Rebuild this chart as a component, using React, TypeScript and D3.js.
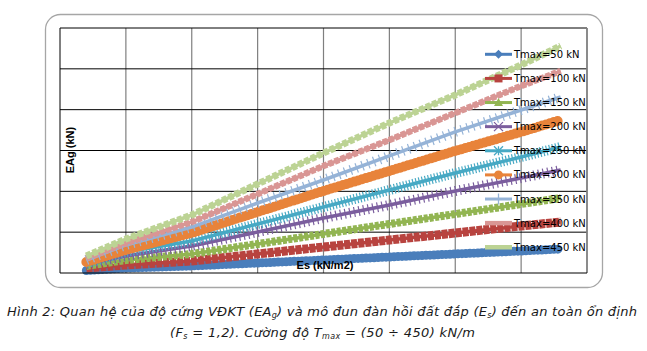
import * as d3 from 'd3';

const W = 647;
const H = 351;

const esValues = [2000, 5000, 10000, 15000, 20000, 25000, 30000, 35000, 38000];

// EAg (kN) per Tmax
const t50 = [31, 61, 86, 122, 159, 196, 233, 269, 294];
const t100 = [61, 98, 147, 233, 318, 404, 490, 576, 624];
const t150 = [86, 159, 233, 355, 478, 600, 722, 845, 918];
const t200 = [110, 208, 331, 502, 673, 833, 1004, 1163, 1261];
const t250 = [122, 257, 392, 600, 808, 1016, 1224, 1420, 1543];
const t300 = [135, 282, 490, 747, 1004, 1249, 1494, 1727, 1873];
const t350 = [159, 343, 563, 857, 1139, 1433, 1727, 1996, 2155];
const t400 = [184, 367, 624, 967, 1310, 1629, 1959, 2290, 2473];
const t450 = [208, 416, 710, 1090, 1469, 1837, 2180, 2547, 2780];

const seriesNames = ['Tmax=50 kN', 'Tmax=100 kN', 'Tmax=150 kN', 'Tmax=200 kN', 'Tmax=250 kN',
  'Tmax=300 kN', 'Tmax=350 kN', 'Tmax=400 kN', 'Tmax=450 kN'];
const seriesValues = [t50, t100, t150, t200, t250, t300, t350, t400, t450];
const colors = ['#4A7EBB', '#B8433F', '#92B552', '#7B5E9E', '#47A9C4', '#E8833A', '#95B3D7', '#D99694', '#BCD394'];
const markers = ['diamond', 'square', 'triangle', 'x', 'star', 'circle', 'plus', 'dash', 'dash'];

// marker look along each line: [width, dasharray, linecap]
const bands: [number, string, string][] = [
  [9, '0,4', 'round'],
  [9, '6,1', 'butt'],
  [8, '4,1.5', 'butt'],
  [10, '1.2,3.5', 'butt'],
  [10, '1.2,2', 'butt'],
  [10, '0,4', 'round'],
  [10, '1.2,5', 'butt'],
  [6.5, '5,1.5', 'butt'],
  [7, '5,2', 'butt'],
];

const x = d3.scaleLinear().domain([0, 40000]).range([60, 587]);
const y = d3.scaleLinear().domain([0, 3000]).range([273, 28]);

const legendMarker = (type: string, cx: number, cy: number, color: string) => {
  const s = 4.5;
  switch (type) {
    case 'diamond':
      return <path d={`M${cx},${cy - s}L${cx + s},${cy}L${cx},${cy + s}L${cx - s},${cy}Z`} fill={color} />;
    case 'square':
      return <rect x={cx - 4} y={cy - 4} width={8} height={8} fill={color} />;
    case 'triangle':
      return <path d={`M${cx},${cy - s}L${cx + s},${cy + s - 1}L${cx - s},${cy + s - 1}Z`} fill={color} />;
    case 'x':
      return <path d={`M${cx - s},${cy - s}L${cx + s},${cy + s}M${cx - s},${cy + s}L${cx + s},${cy - s}`} stroke={color} strokeWidth={1.3} />;
    case 'star':
      return <path d={`M${cx - s},${cy - s}L${cx + s},${cy + s}M${cx - s},${cy + s}L${cx + s},${cy - s}M${cx},${cy - s}L${cx},${cy + s}`} stroke={color} strokeWidth={1.3} />;
    case 'circle':
      return <circle cx={cx} cy={cy} r={s} fill={color} />;
    case 'plus':
      return <path d={`M${cx},${cy - s - 1}L${cx},${cy + s + 1}`} stroke={color} strokeWidth={1.3} />;
    default:
      return null;
  }
};

export default function App() {
  const line = d3.line<number>()
    .x((d, i) => x(esValues[i]))
    .y((d) => y(d));

  const xTicks = d3.range(0, 40001, 5000);
  const yTicks = d3.range(500, 3000, 500);
  const legendX = 485;

  return (
    <svg width={W} height={H} style={{ position: 'absolute', left: 0, top: 0, background: '#fff' }}>
      <rect x={45.5} y={14.5} width={557} height={273} rx={15} fill="#fff" stroke="#A6A6A6" strokeWidth={1.3} />

      {/* grid */}
      {xTicks.slice(1, -1).map((t) => (
        <line key={'gx' + t} x1={x(t)} x2={x(t)} y1={28} y2={273} stroke="#7F7F7F" strokeWidth={1.2} />
      ))}
      {yTicks.map((t) => (
        <line key={'gy' + t} x1={60} x2={587} y1={y(t)} y2={y(t)} stroke="#000" strokeWidth={1} />
      ))}
      <line x1={60} x2={60} y1={28} y2={273} stroke="#000" />
      <line x1={60} x2={587} y1={28} y2={28} stroke="#000" />
      <line x1={587} x2={587} y1={28} y2={273} stroke="#7F7F7F" strokeWidth={1.8} />

      <text x={70} y={150} transform="rotate(-90 70 150)" textAnchor="middle" dy="0.35em"
        fontFamily="Liberation Sans, Arial, sans-serif" fontWeight="bold" fontSize={11}>EAg (kN)</text>

      {/* series */}
      {seriesValues.map((vals, i) => (
        <g key={seriesNames[i]}>
          <path d={line(vals) || ''} fill="none" stroke={colors[i]} strokeWidth={3.5} />
          <path d={line(vals) || ''} fill="none" stroke={colors[i]} strokeWidth={bands[i][0]}
            strokeDasharray={bands[i][1]} strokeLinecap={bands[i][2] as any} />
        </g>
      ))}

      <line x1={60} x2={587} y1={273} y2={273} stroke="#000" />

      <text x={325} y={265} textAnchor="middle" dy="0.35em"
        fontFamily="Liberation Sans, Arial, sans-serif" fontWeight="bold" fontSize={11}>Es (kN/m2)</text>

      {/* legend */}
      {seriesNames.map((name, i) => {
        const ly = 54.3 + i * 24.12;
        return (
          <g key={'lg' + name}>
            <line x1={legendX} x2={legendX + 27} y1={ly} y2={ly} stroke={colors[i]}
              strokeWidth={markers[i] === 'dash' ? 4.5 : 3} />
            {legendMarker(markers[i], legendX + 13.5, ly, colors[i])}
            <text x={514} y={ly} dy="0.35em" fontFamily="DejaVu Sans, Verdana, sans-serif" fontSize={10} fill="#000">{name}</text>
          </g>
        );
      })}

      {/* caption */}
      <g fontFamily="DejaVu Sans, Verdana, sans-serif" fontStyle="italic" fontSize={13} fill="#1a1a1a">
        <text x={322} y={316} textAnchor="middle" textLength={630} lengthAdjust="spacing">
          Hình 2: Quan hệ của độ cứng VĐKT (EA<tspan fontSize={8} dy={1.5}>g</tspan><tspan dy={-1.5}>) và mô đun đàn hồi đất đắp (E</tspan><tspan fontSize={8} dy={1.5}>s</tspan><tspan dy={-1.5}>) đến an toàn ổn định</tspan>
        </text>
        <text x={322.5} y={337} textAnchor="middle" textLength={305} lengthAdjust="spacing">
          (F<tspan fontSize={8} dy={1.5}>s</tspan><tspan dy={-1.5}> = 1,2). Cường độ T</tspan><tspan fontSize={8} dy={1.5}>max</tspan><tspan dy={-1.5}> = (50 ÷ 450) kN/m</tspan>
        </text>
      </g>
    </svg>
  );
}
